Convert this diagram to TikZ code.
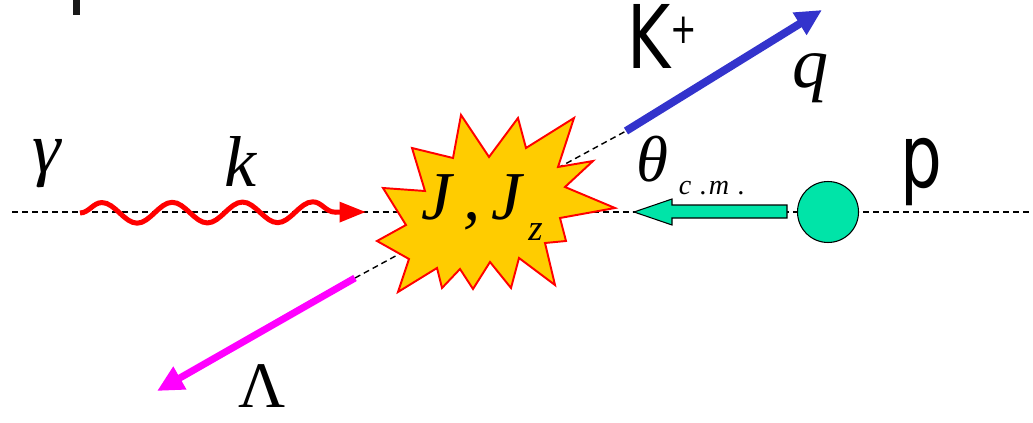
\documentclass[tikz,border=0pt]{standalone}
\usepackage{fontspec}
\setmainfont{Liberation Serif}
\newfontfamily\roundsans[FakeStretch=0.75]{DejaVu Sans}
\usepackage{xcolor}
\usetikzlibrary{arrows.meta,decorations.pathmorphing}

\definecolor{burstyellow}{RGB}{255,204,0}
\definecolor{kaonblue}{RGB}{51,51,204}
\definecolor{lambdapink}{RGB}{255,0,255}
\definecolor{protongreen}{RGB}{0,228,168}

\begin{document}
\begin{tikzpicture}[x=0.02cm, y=-0.02cm,
  axis/.style={dash pattern=on 3.4pt off 2.3pt, line width=0.8pt},
  letter/.style={font=\fontsize{41}{45}\selectfont\itshape, inner sep=0pt},
  sanslabel/.style={font=\fontsize{50}{54}\selectfont\roundsans, inner sep=0pt},
  photon/.style={red, line width=2.85pt, decorate,
    decoration={snake, amplitude=5.9pt, segment length=40pt, post length=12pt},
    -{Triangle[length=15pt, width=11pt]}},
  meson/.style={line width=4.5pt, -{Triangle[length=15pt, width=14pt]}}]
  \useasboundingbox (0,0) rectangle (1033,422);

  % beam axis and decay axis
  \coordinate (axisL) at (12,212);
  \coordinate (axisR) at (1030,212);
  \coordinate (kstart) at (626,131);
  \coordinate (ktip) at (822,10);
  \coordinate (lstart) at (355,278);
  \coordinate (ltip) at (157,391);
  \coordinate (gstart) at (80,213);
  \coordinate (gtip) at (366,212);
  \draw[axis] (axisL) -- (axisR);
  \draw[axis] (lstart) -- (kstart);

  % resonance
  \draw[fill=burstyellow, draw=red, line width=1.1pt]
    (461,115) -- (489,157) -- (518,118) -- (526,148) -- (574,118) -- (558,167)
    -- (593,161) -- (565,187) -- (615,208) -- (560,218) -- (566,241) -- (545,243)
    -- (555,285) -- (519,258) -- (511,288) -- (490,262) -- (473,289) -- (460,269)
    -- (442,288) -- (437,268) -- (398,292) -- (409,259) -- (377,241) -- (406,225)
    -- (383,188) -- (425,191) -- (412,148) -- (453,158) -- cycle;
  \node[inner sep=0pt, font=\fontsize{39}{43}\selectfont\itshape] (burst) at (482,208)
    {J\,,\,J\raisebox{-12pt}{\fontsize{21}{21}\selectfont\,z}};

  % incoming photon and proton
  \draw[photon] (gstart) -- (gtip);
  \node[circle, draw, line width=0.6pt, fill=protongreen, minimum size=1.22cm,
    inner sep=0pt] (proton) at (828,212) {};
  \draw[fill=protongreen, line width=0.6pt] (787,205) -- (672,205) -- (672,199)
    -- (634,212) -- (672,225) -- (672,218) -- (787,218) -- cycle;

  % outgoing kaon and lambda
  \draw[meson, kaonblue] (kstart) -- (ktip);
  \draw[meson, lambdapink, line width=4pt] (lstart) -- (ltip);

  \node[letter] (gamma) at (47,164) {γ};
  \node[letter] (kmom) at (240,162) {k};
  \node[letter] (qmom) at (810,78) {q};
  \node[letter, font=\fontsize{37}{40}\selectfont\itshape] (theta) at (652,159) {θ};
  \node[inner sep=0pt, font=\fontsize{16}{18}\selectfont\itshape] (cm) at (712,188)
    {c\hspace{5pt}.\hspace{1pt}m\hspace{5pt}.};
  \node[letter, font=\fontsize{37}{40}\selectfont] (lambda) at (262,386) {Λ};
  \node[sanslabel] (kaon) at (662,36)
    {K\raisebox{14pt}{\fontsize{24}{24}\selectfont +}};
  \node[sanslabel] (plabel) at (921,172) {p};

  \fill[black!90] (73,0) rectangle (80,15);
\end{tikzpicture}
\end{document}
